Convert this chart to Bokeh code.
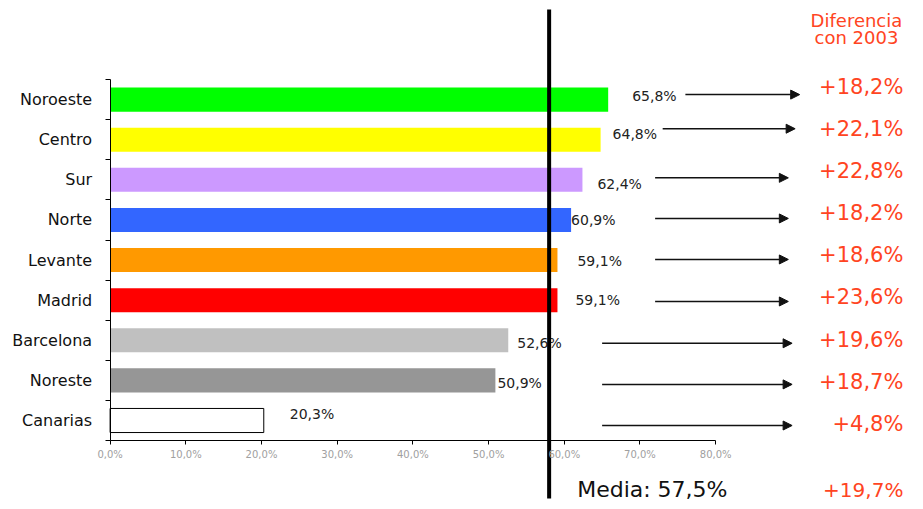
from bokeh.plotting import figure
from bokeh.models import (ColumnDataSource, Range1d, LinearAxis, FixedTicker,
                          Arrow, NormalHead)
from bokeh.core.properties import value
from bokeh.embed import file_html
from bokeh.resources import INLINE

# ---- data ----
regions = ["Noroeste", "Centro", "Sur", "Norte", "Levante", "Madrid",
           "Barcelona", "Noreste", "Canarias"]
shares = [65.8, 64.8, 62.4, 60.9, 59.1, 59.1, 52.6, 50.9, 20.3]
share_labels = ["65,8%", "64,8%", "62,4%", "60,9%", "59,1%", "59,1%",
                "52,6%", "50,9%", "20,3%"]
diff_labels = ["+18,2%", "+22,1%", "+22,8%", "+18,2%", "+18,6%", "+23,6%",
               "+19,6%", "+18,7%", "+4,8%"]
media_label = "Media: 57,5%"
media_diff_label = "+19,7%"
media_line_x = 58.0
x_ticks = [0, 10, 20, 30, 40, 50, 60, 70, 80]
x_tick_labels = ["0,0%", "10,0%", "20,0%", "30,0%", "40,0%", "50,0%",
                 "60,0%", "70,0%", "80,0%"]
header_lines = ["Diferencia", "con 2003"]

# ---- styles / positions ----
bar_colors = ["#00ff00", "#ffff00", "#cc99ff", "#3366ff", "#ff9900",
              "#ff0000", "#c0c0c0", "#969696", "#ffffff"]
bar_lines = [None] * 8 + ["#000000"]
label_dx = [24, 12, 15, 0, 20, 18, 9, 2, 26]      # px after bar end
label_dy = [4, 6, -4, -0.5, -1.4, -0.3, -3, -3, 7]  # px (up positive)
arrow_x0 = [76.0, 73.0, 72.0, 72.0, 72.0, 72.0, 65.0, 65.0, 65.0]
arrow_x1 = [91.1, 90.5, 89.6, 89.6, 89.6, 89.6, 90.1, 90.1, 90.1]
arrow_dy = [5, 11, 2, 1.5, 0.6, -1.3, -3, -4, -5]  # px (up positive)
diff_dy = [13, 11, 9, 6.5, 4.6, 2.7, 0, -2, -3]
RED = "#ff4422"
FONT = value("DejaVu Sans")

n = len(regions)
ypos = [n - 1 - i for i in range(n)]
PX_Y = 40.11  # px per y unit


def ypx(py):
    # canvas pixel row -> y data value
    return (420 - py) / PX_Y


src = ColumnDataSource(dict(
    y=ypos, v=shares, color=bar_colors, line=bar_lines,
    lab=share_labels, dx=label_dx, dy=[-d for d in label_dy],
    diff=diff_labels, ddy=[-d for d in diff_dy],
    ax0=arrow_x0, ax1=arrow_x1,
    ay=[yy + d / PX_Y for yy, d in zip(ypos, arrow_dy)],
))

p = figure(width=915, height=501, output_backend="svg", toolbar_location=None,
           x_range=Range1d(-14.48, 106.4), y_range=Range1d(ypx(501), ypx(0)),
           min_border=0, x_axis_location=None, y_axis_location=None)
p.grid.visible = False
p.outline_line_color = None
p.background_fill_color = "white"

p.hbar(y="y", left=0, right="v", height=0.6, fill_color="color",
       line_color="line", line_width=1, source=src)

# value labels
p.text(x="v", y="y", text="lab", x_offset="dx", y_offset="dy", source=src,
       text_font=FONT, text_font_size="14px", text_color="#222222",
       text_baseline="middle", text_align="left")

# arrows
p.add_layout(Arrow(x_start="ax0", y_start="ay", x_end="ax1", y_end="ay",
                   source=src, line_color="#111111", line_width=1.5,
                   end=NormalHead(size=9, fill_color="#111111",
                                  line_color="#111111")))

# difference labels
p.text(x=104.8, y="y", text="diff", y_offset="ddy", source=src,
       text_font=FONT, text_font_size="21px", text_color=RED,
       text_baseline="middle", text_align="right")

# header
p.text(x=[98.6, 98.6], y=[ypx(20), ypx(37)],
       text=header_lines, text_font=FONT, text_font_size="18px",
       text_color=RED, text_baseline="middle", text_align="center")

# media line and labels
p.segment(x0=[media_line_x], y0=[ypx(9)], x1=[media_line_x], y1=[ypx(498)],
          line_color="black", line_width=4)
p.text(x=[61.7], y=[ypx(489)], text=[media_label], text_font=FONT,
       text_font_size="22px", text_color="#111111",
       text_baseline="middle", text_align="left")
p.text(x=[104.8], y=[ypx(489)], text=[media_diff_label], text_font=FONT,
       text_font_size="20px", text_color=RED,
       text_baseline="middle", text_align="right")

# axes
xa = LinearAxis(fixed_location=-0.5, bounds=(0, 80),
                ticker=FixedTicker(ticks=x_ticks, minor_ticks=[]),
                major_label_overrides={t: l for t, l in zip(x_ticks, x_tick_labels)})
xa.axis_line_color = "black"
xa.major_tick_out = 4
xa.major_tick_in = 0
xa.major_tick_line_color = "black"
xa.major_label_text_font = "DejaVu Sans"
xa.major_label_text_font_size = "10px"
xa.major_label_text_color = "#a0a0a0"
xa.major_label_standoff = 4
p.add_layout(xa, "below")

ya = LinearAxis(fixed_location=0, bounds=(-0.5, n - 0.5),
                ticker=FixedTicker(ticks=ypos,
                                   minor_ticks=[k - 0.5 for k in range(n + 1)]),
                major_label_overrides={yy: r for yy, r in zip(ypos, regions)})
ya.axis_line_color = "black"
ya.major_tick_line_color = None
ya.minor_tick_out = 5
ya.minor_tick_in = 0
ya.minor_tick_line_color = "black"
ya.major_label_text_font = "DejaVu Sans"
ya.major_label_text_font_size = "16px"
ya.major_label_text_color = "#111111"
ya.major_label_standoff = 12
p.add_layout(ya, "left")

open("out.html", "w").write(file_html(p, INLINE))
